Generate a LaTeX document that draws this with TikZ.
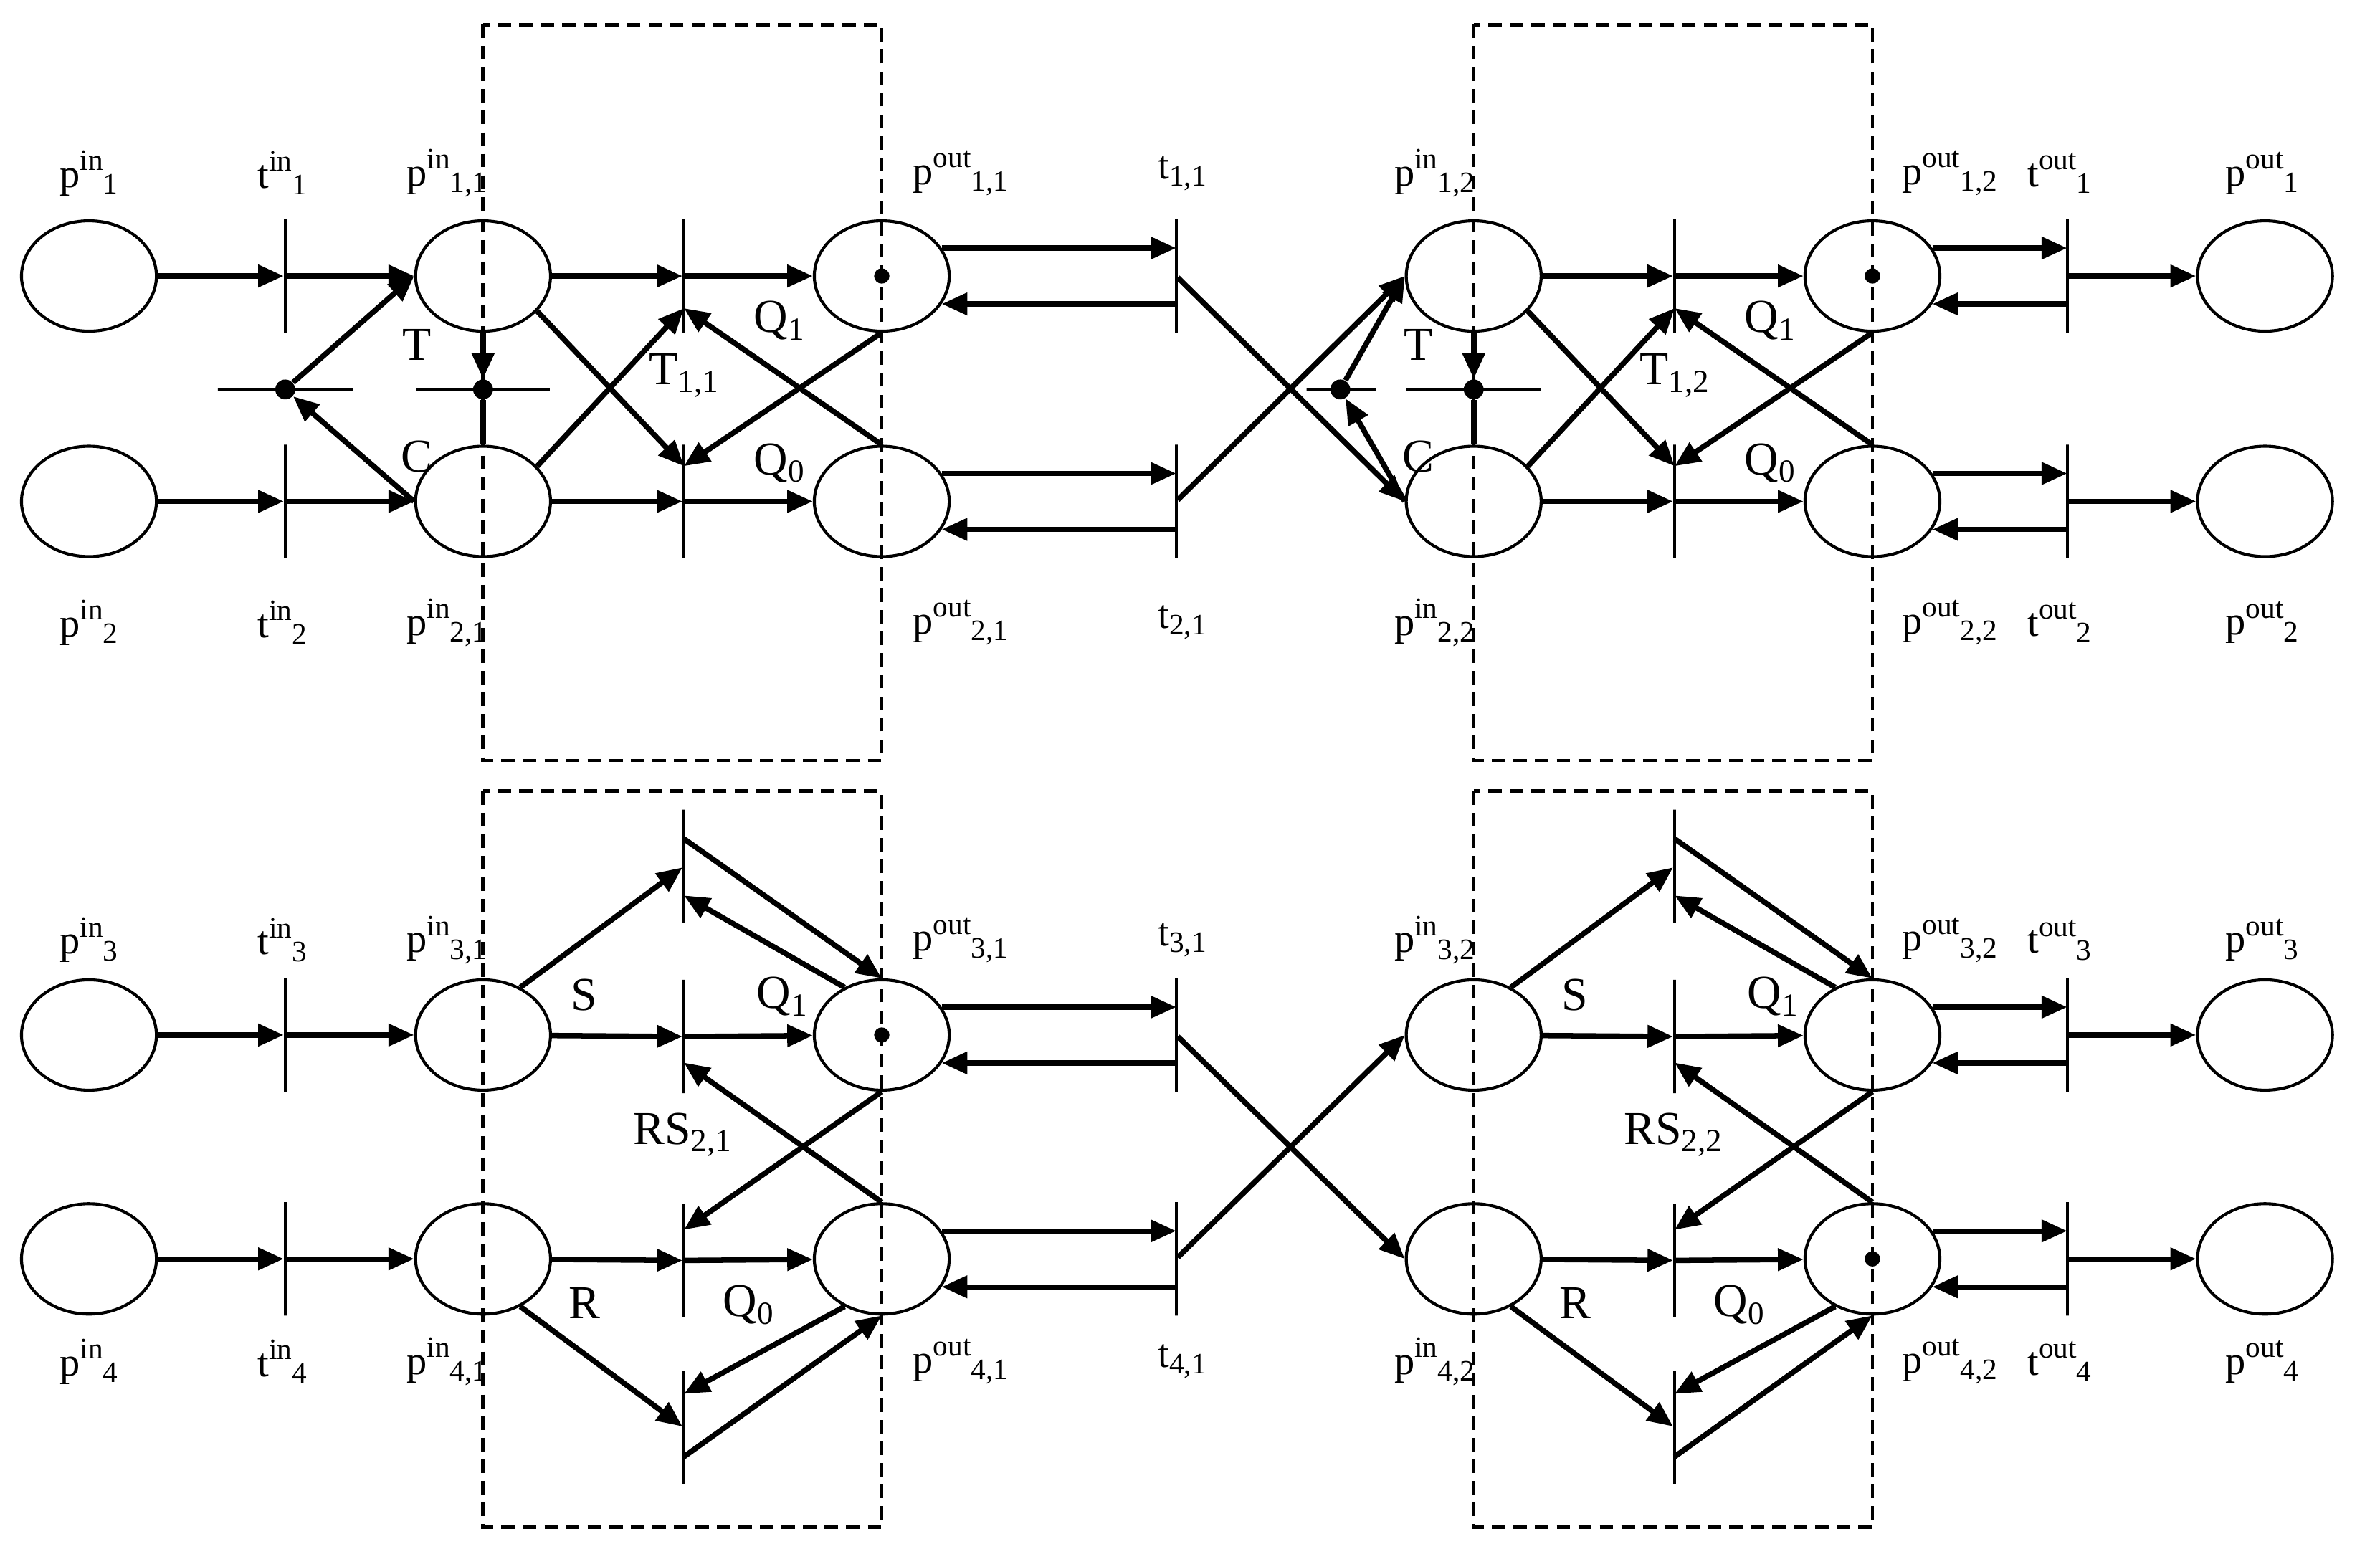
\documentclass[tikz,border=0pt]{standalone}
\usepackage{fontspec}
\setmainfont{Liberation Serif}
\usetikzlibrary{arrows.meta,calc,shapes.geometric}
\tikzset{
 place/.style={ellipse,draw,line width=1.1pt,minimum width=1.76cm,minimum height=1.44cm,inner sep=0pt},
 trans/.style={draw,line width=1.1pt,minimum height=1.48cm,minimum width=0pt,inner sep=0pt,rectangle},
 htrans/.style={draw,line width=1.1pt,minimum width=#1,minimum height=0pt,inner sep=0pt,rectangle},
 arc/.style={line width=2pt,-{Triangle[length=9.5pt,width=8pt]}},
 plain/.style={line width=2pt},
 dot/.style={circle,fill,inner sep=0pt,minimum size=0.26cm},
 tok/.style={circle,fill,inner sep=0pt,minimum size=0.2cm},
 box/.style={line width=1.3pt,dash pattern=on 5pt off 3pt},
 lbl/.style={font=\fontsize{15}{17}\selectfont,inner sep=0pt},
 ilbl/.style={font=\fontsize{17.5}{19}\selectfont,inner sep=0pt},
}
\newcommand\pl[3]{#1\raisebox{6.3pt}{\fontsize{11}{11}\selectfont #2}\raisebox{-2.5pt}{\fontsize{11}{11}\selectfont #3}}
\newcommand\ql[2]{#1\raisebox{-2.8pt}{\fontsize{12}{12}\selectfont #2}}
\newcommand\TopBlk[2]{%
 \begin{scope}[shift={(#2,0)}]
  \draw[box] (315,16) rectangle (575,496);
  \node[place] (pia#1) at (315,180) {};
  \node[place] (pib#1) at (315,327) {};
  \node[place] (poa#1) at (575,180) {};
  \node[place] (pob#1) at (575,327) {};
  \node[trans] (ta#1) at (446,180) {};
  \node[trans] (tb#1) at (446,327) {};
  \node[ilbl] (lT#1) at (446,245) {\ql{T}{1,#1}};
  \node[ilbl] (lQa#1) at (508,209) {\ql{Q}{1}};
  \node[ilbl] (lQb#1) at (508,302) {\ql{Q}{0}};
 \end{scope}
 \draw[arc] (pia#1) -- (ta#1);
 \draw[arc] (ta#1) -- (poa#1);
 \draw[arc] (pib#1) -- (tb#1);
 \draw[arc] (tb#1) -- (pob#1);
 \draw[arc] (pia#1.-33) -- ($(tb#1)+(0,-23)$);
 \draw[arc] (pib#1.33) -- ($(ta#1)+(0,21)$);
 \draw[arc] (poa#1.south) -- ($(tb#1)+(0,-23)$);
 \draw[arc] (pob#1.north) -- ($(ta#1)+(0,21)$);
}
\newcommand\BotBlk[2]{%
 \begin{scope}[shift={(#2,0)}]
  \draw[box] (315,516) rectangle (575,996);
  \node[place] (pic#1) at (315,675) {};
  \node[place] (pid#1) at (315,821) {};
  \node[place] (poc#1) at (575,675) {};
  \node[place] (pod#1) at (575,821) {};
  \node[trans] (tu#1) at (446,565) {};
  \node[trans] (tm#1) at (446,676) {};
  \node[trans] (tl#1) at (446,822) {};
  \node[trans] (tw#1) at (446,931) {};
  \node[ilbl] (lS#1) at (381,649) {S};
  \node[ilbl] (lQc#1) at (510,650) {\ql{Q}{1}};
  \node[ilbl] (lRS#1) at (445,740) {\ql{RS}{2,#1}};
  \node[ilbl] (lR#1) at (381,850) {R};
  \node[ilbl] (lQd#1) at (488,851) {\ql{Q}{0}};
 \end{scope}
 \draw[arc] (pic#1) -- (tm#1);
 \draw[arc] (tm#1) -- (poc#1);
 \draw[arc] (pid#1) -- (tl#1);
 \draw[arc] (tl#1) -- (pod#1);
 \draw[arc] (pic#1.52) -- (tu#1);
 \draw[arc] ($(tu#1)+(0,-18)$) -- (poc#1.north);
 \draw[arc] (poc#1.128) -- ($(tu#1)+(0,19)$);
 \draw[arc] (poc#1.south) -- ($(tl#1)+(0,-20)$);
 \draw[arc] (pod#1.north) -- ($(tm#1)+(0,17)$);
 \draw[arc] (pid#1.-52) -- (tw#1);
 \draw[arc] (pod#1.-128) -- ($(tw#1)+(0,-22)$);
 \draw[arc] ($(tw#1)+(0,19)$) -- (pod#1.south);
}
\begin{document}
\begin{tikzpicture}[x=0.02cm,y=-0.02cm]
\useasboundingbox (0,0) rectangle (1552,1010);
\TopBlk{1}{0}
\TopBlk{2}{646}
\BotBlk{1}{0}
\BotBlk{2}{646}
\foreach \k/\y in {1/180,2/327,3/675,4/821}{
  \node[place] (pin\k) at (58,\y) {};
  \node[trans] (tin\k) at (186,\y) {};
  \node[trans] (tout\k) at (1348,\y) {};
  \node[place] (pout\k) at (1477,\y) {};
  \draw[arc] (pin\k) -- (tin\k);
  \draw[arc] (tout\k) -- (pout\k);
}
\node[trans] (t11) at (767,180) {};
\node[trans] (t21) at (767,327) {};
\node[trans] (t31) at (767,675) {};
\node[trans] (t41) at (767,821) {};
\draw[arc] (tin1) -- (pia1);
\draw[arc] (tin2) -- (pib1);
\draw[arc] (tin3) -- (pic1);
\draw[arc] (tin4) -- (pid1);
\foreach \p/\t in {poa1/t11,pob1/t21,poc1/t31,pod1/t41,poa2/tout1,pob2/tout2,poc2/tout3,pod2/tout4}{
  \draw[arc] (\p.25) -- (\p.25 -| \t);
  \draw[arc] (\p.-25 -| \t) -- (\p.-25);
}
\draw[arc] (t11) -- (pib2.west);
\draw[arc] (t21) -- (pia2.west);
\draw[arc] (t31) -- (pid2.west);
\draw[arc] (t41) -- (pic2.west);
\node[htrans=1.76cm] (h1) at (186,254) {};
\node[htrans=1.74cm] (h2) at (315,254) {};
\node[htrans=0.9cm] (h3) at (874.5,254) {};
\node[htrans=1.76cm] (h4) at (961,254) {};
\node[dot] (d1) at (186,254) {};
\node[dot] (d2) at (315,254) {};
\node[dot] (d3) at (874,254) {};
\node[dot] (d4) at (961,254) {};
\draw[arc] (d1) -- (pia1.west);
\draw[arc] (pib1.west) -- (d1);
\draw[arc] (pia1.south) -- (d2);
\draw[plain] (d2) -- (pib1.north);
\draw[arc] (d3) -- (pia2.west);
\draw[arc] (pib2.west) -- (d3);
\draw[arc] (pia2.south) -- (d4);
\draw[plain] (d4) -- (pib2.north);
\node[tok] (k1) at (poa1) {};
\node[tok] (k2) at (poa2) {};
\node[tok] (k3) at (poc1) {};
\node[tok] (k4) at (pod2) {};
\node[ilbl] (lt1) at (272,225) {T};
\node[ilbl] (lc1) at (272,298) {C};
\node[ilbl] (lt2) at (925,225) {T};
\node[ilbl] (lc2) at (925,298) {C};
\foreach \k/\y in {1/113,2/406,3/613,4/888}{
  \node[lbl] (Lpin\k) at (58,\y) {\pl{p}{in}{\k}};
  \node[lbl] (Ltin\k) at (184,\y) {\pl{t}{in}{\k}};
  \node[lbl,anchor=east] (Lpa\k) at (318,\y) {\pl{p}{in}{\k,1}};
  \node[lbl,anchor=west] (Lpb\k) at (595,\y) {\pl{p}{out}{\k,1}};
  \node[lbl] (Lt\k) at (771,\y) {\pl{t}{}{\k,1}};
  \node[lbl,anchor=east] (Lpc\k) at (962,\y) {\pl{p}{in}{\k,2}};
  \node[lbl,anchor=west] (Lpd\k) at (1240,\y) {\pl{p}{out}{\k,2}};
  \node[lbl] (Ltout\k) at (1343,\y) {\pl{t}{out}{\k}};
  \node[lbl] (Lpout\k) at (1475,\y) {\pl{p}{out}{\k}};
}
\end{tikzpicture}
\end{document}
